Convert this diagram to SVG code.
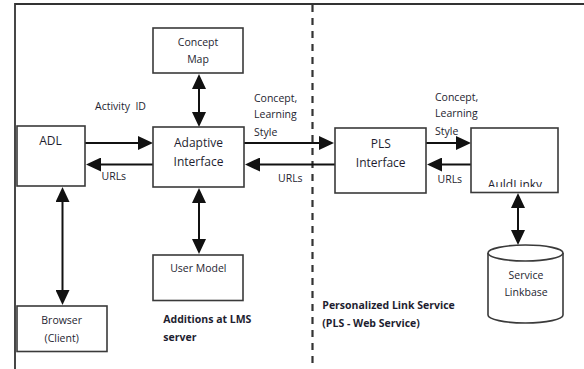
<svg xmlns="http://www.w3.org/2000/svg" width="584" height="369" viewBox="0 0 584 369">
  <style>
    .box { fill: #ffffff; stroke: #3a3a3a; stroke-width: 1.6; }
    .frame { fill: none; stroke: #333333; stroke-width: 1.8; }
    .divider { fill: none; stroke: #333333; stroke-width: 2.2; stroke-dasharray: 7 6; }
    .link { fill: none; stroke: #111111; stroke-width: 2; }
    .lbl { font-family: "Open Sans", "Noto Sans", sans-serif; font-size: 10.5px; fill: #1e1e30; white-space: pre; }
    .big { font-family: "Open Sans", "Noto Sans", sans-serif; font-size: 12px; fill: #1e1e30; }
    .bold { font-family: "Open Sans", "Noto Sans", sans-serif; font-size: 10.5px; font-weight: bold; fill: #1e1e30; }
    .mid { text-anchor: middle; }
  </style>
  <defs>
    <marker id="head" markerUnits="userSpaceOnUse" markerWidth="15" markerHeight="14" refX="11" refY="7" orient="auto-start-reverse" viewBox="0 0 15 14">
      <path d="M0,0 L15,7 L0,14 z" fill="#111111"/>
    </marker>
    <clipPath id="auldClip">
      <rect x="471" y="128" width="87" height="59"/>
    </clipPath>
  </defs>

  <!-- outer frame and zone divider -->
  <g id="frame">
    <path class="frame" d="M15,369 V4 H584"/>
    <line class="divider" x1="312.5" y1="5" x2="312.5" y2="369"/>
  </g>

  <!-- connectors -->
  <g id="connectors">
    <line class="link" x1="199" y1="78" x2="199" y2="123" marker-start="url(#head)" marker-end="url(#head)"/>
    <line class="link" x1="85" y1="143" x2="149" y2="143" marker-end="url(#head)"/>
    <line class="link" x1="153" y1="164.5" x2="90" y2="164.5" marker-end="url(#head)"/>
    <line class="link" x1="244" y1="143" x2="330" y2="143" marker-end="url(#head)"/>
    <line class="link" x1="335" y1="164.5" x2="249" y2="164.5" marker-end="url(#head)"/>
    <line class="link" x1="426" y1="143" x2="467" y2="143" marker-end="url(#head)"/>
    <line class="link" x1="471" y1="164.5" x2="431" y2="164.5" marker-end="url(#head)"/>
    <line class="link" x1="518" y1="197" x2="518" y2="241" marker-start="url(#head)" marker-end="url(#head)"/>
    <line class="link" x1="62.5" y1="191" x2="62.5" y2="301" marker-start="url(#head)" marker-end="url(#head)"/>
    <line class="link" x1="199" y1="192" x2="199" y2="250" marker-start="url(#head)" marker-end="url(#head)"/>

    <text class="lbl" x="95" y="109.8">Activity  ID</text>
    <text class="lbl" x="101.5" y="179.5">URLs</text>
    <text class="lbl" x="278" y="181.5">URLs</text>
    <text class="lbl" x="437.5" y="182.8">URLs</text>
    <text class="lbl" x="254" y="101.5">Concept,</text>
    <text class="lbl" x="254" y="118">Learning</text>
    <text class="lbl" x="254" y="136">Style</text>
    <text class="lbl" x="435" y="100.5">Concept,</text>
    <text class="lbl" x="435" y="117">Learning</text>
    <text class="lbl" x="435" y="134.5">Style</text>
  </g>

  <g id="concept-map">
    <rect class="box" x="153" y="28" width="90" height="45"/>
    <text class="lbl mid" x="198" y="45.8">Concept</text>
    <text class="lbl mid" x="198" y="62.8">Map</text>
  </g>

  <g id="adl">
    <rect class="box" x="17" y="126" width="68" height="60"/>
    <text class="big mid" x="50.5" y="145.3">ADL</text>
  </g>

  <g id="adaptive-interface">
    <rect class="box" x="153" y="127" width="91" height="60"/>
    <text class="big mid" x="198.5" y="147">Adaptive</text>
    <text class="big mid" x="198.5" y="166">Interface</text>
  </g>

  <g id="user-model">
    <rect class="box" x="153" y="255" width="90" height="45.5"/>
    <text class="lbl mid" x="198.3" y="272">User Model</text>
  </g>

  <g id="browser">
    <rect class="box" x="17" y="306" width="90" height="45.5"/>
    <text class="lbl mid" x="61.7" y="323.8">Browser</text>
    <text class="lbl mid" x="61.7" y="342">(Client)</text>
  </g>

  <g id="pls-interface">
    <rect class="box" x="335" y="128" width="91" height="65"/>
    <text class="big mid" x="380.7" y="147.6">PLS</text>
    <text class="big mid" x="380.7" y="166.6">Interface</text>
  </g>

  <g id="auldlinky">
    <rect class="box" x="471" y="128" width="87" height="64.5"/>
    <text class="big mid" x="515" y="188.8" font-size="11" clip-path="url(#auldClip)">AuldLinky</text>
  </g>

  <g id="service-linkbase">
    <path class="box" d="M488,253 V315 A37.5,8 0 0 0 563,315 V253"/>
    <ellipse class="box" cx="525.5" cy="253" rx="37.5" ry="8"/>
    <text class="lbl mid" x="526" y="278.8">Service</text>
    <text class="lbl mid" x="526" y="296">Linkbase</text>
  </g>

  <g id="zone-labels">
    <text class="bold" x="163.3" y="323">Additions at LMS</text>
    <text class="bold" x="163.3" y="340.5">server</text>
    <text class="bold" x="322.3" y="308.8">Personalized Link Service</text>
    <text class="bold" x="322.3" y="326.5">(PLS - Web Service)</text>
  </g>
</svg>
